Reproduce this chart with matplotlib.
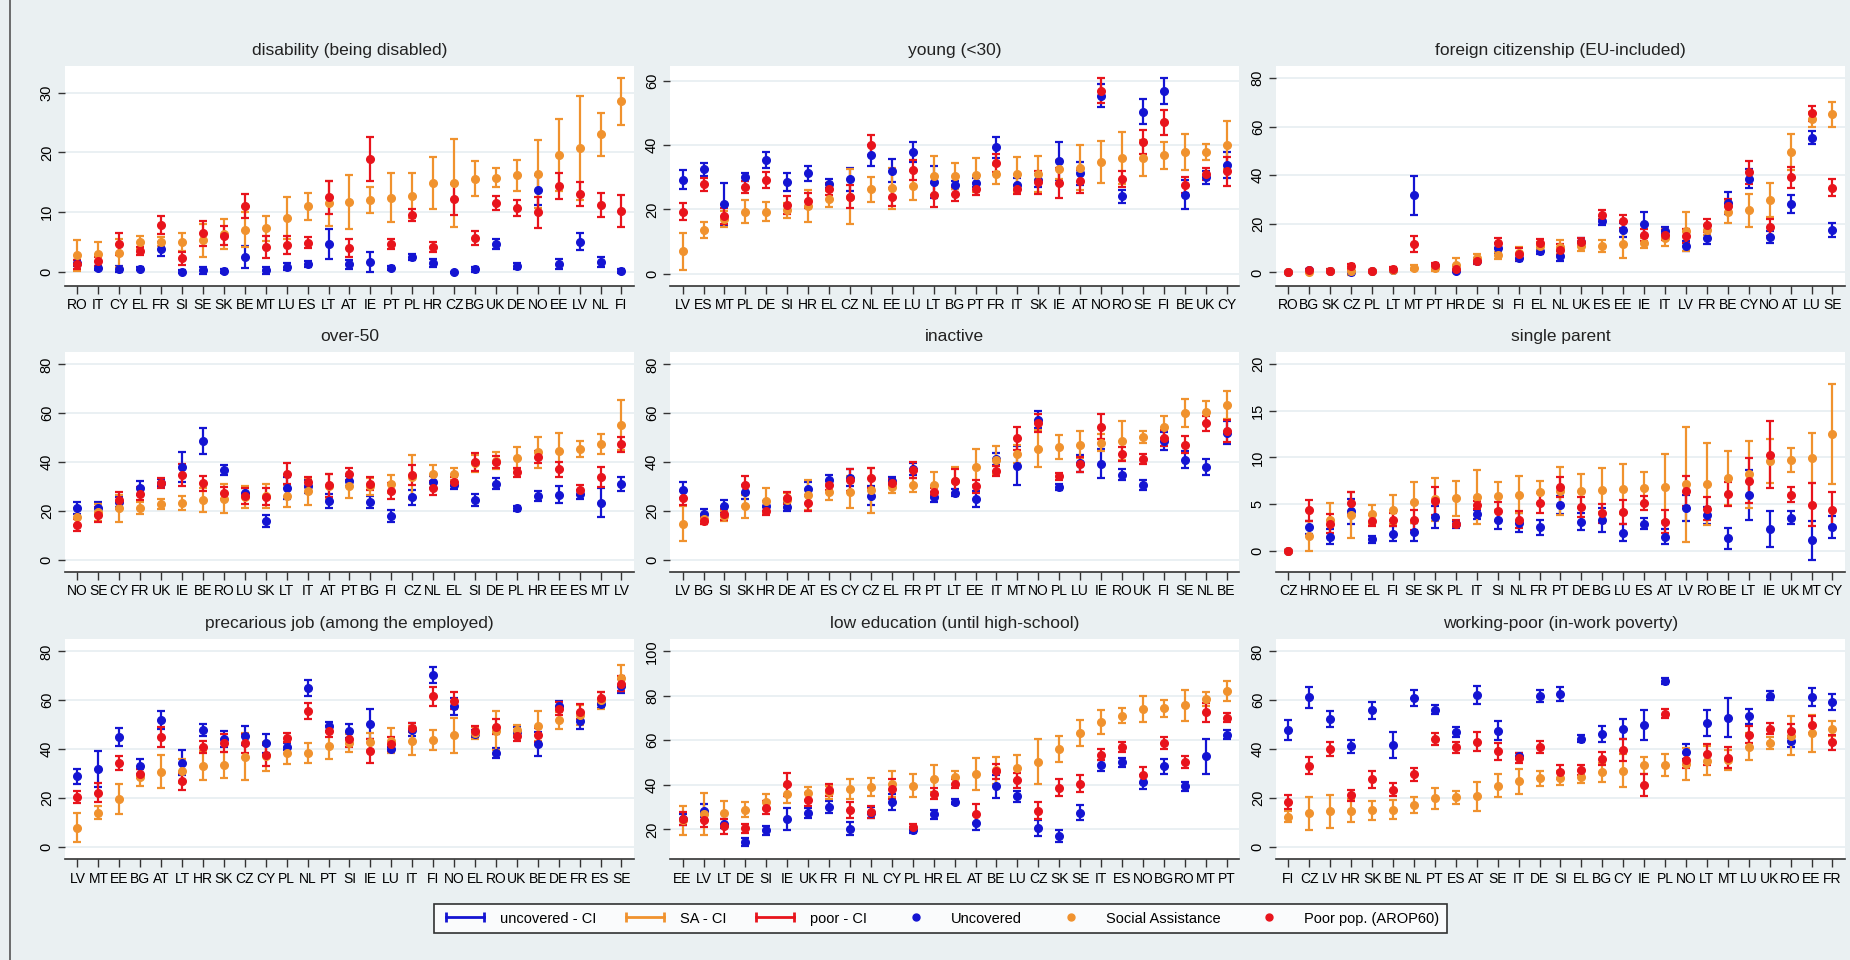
import matplotlib
matplotlib.use("Agg")
import matplotlib.pyplot as plt
from matplotlib.lines import Line2D
from matplotlib.legend_handler import HandlerLine2D

plt.rcParams['font.family'] = ['Liberation Sans', 'DejaVu Sans']

# colours (Stata s2color-like)
BLUE = '#1414d2'
ORANGE = '#f0922e'
RED = '#e8141c'
BG = '#eaf0f2'

# ---- disability (being disabled)
dis_cty = ['RO', 'IT', 'CY', 'EL', 'FR', 'SI', 'SE', 'SK', 'BE', 'MT', 'LU', 'ES', 'LT', 'AT', 'IE', 'PT', 'PL', 'HR', 'CZ', 'BG', 'UK', 'DE', 'NO', 'EE', 'LV', 'NL', 'FI']
dis_unc = [1.5, 0.7, 0.6, 0.6, 3.9, 0.1, 0.3, 0.2, 2.5, 0.3, 0.9, 1.3, 4.7, 1.3, 1.7, 0.7, 2.6, 1.5, 0.0, 0.5, 4.7, 1.1, 13.7, 1.4, 5.1, 1.7, 0.2]
dis_unc_e = [0.5, 0.4, 0.5, 0.3, 1.2, 0.3, 0.6, 0.3, 1.8, 0.6, 0.6, 0.5, 2.5, 0.8, 1.7, 0.4, 0.5, 0.7, 0.1, 0.4, 0.8, 0.5, 2.5, 0.8, 1.4, 0.9, 0.3]
dis_sa = [2.8, 3.0, 3.2, 5.0, 5.1, 5.1, 5.3, 6.3, 7.1, 7.3, 9.0, 11.0, 11.5, 11.7, 12.1, 12.4, 12.8, 14.9, 14.9, 15.6, 15.8, 16.2, 16.4, 19.6, 20.7, 23.0, 28.5]
dis_sa_e = [2.6, 2.0, 2.3, 1.1, 0.7, 1.5, 2.7, 2.5, 2.9, 2.1, 3.5, 2.3, 3.8, 4.5, 2.2, 4.1, 3.7, 4.3, 7.4, 2.9, 1.6, 2.6, 5.6, 6.0, 8.7, 3.6, 3.9]
dis_poor = [1.3, 1.8, 4.7, 3.5, 7.8, 2.3, 6.5, 6.1, 11.1, 4.2, 4.5, 4.9, 12.5, 4.1, 18.9, 4.7, 9.6, 4.2, 12.2, 5.7, 11.6, 10.7, 10.0, 14.4, 13.1, 11.2, 10.2]
dis_poor_e = [0.7, 0.8, 1.8, 0.7, 1.5, 1.1, 2.1, 1.6, 2.0, 1.8, 1.5, 0.9, 2.7, 1.5, 3.7, 0.9, 1.0, 0.9, 2.6, 1.1, 1.2, 1.4, 2.6, 2.1, 2.0, 2.0, 2.7]

# ---- young (<30)
yng_cty = ['LV', 'ES', 'MT', 'PL', 'DE', 'SI', 'HR', 'EL', 'CZ', 'NL', 'EE', 'LU', 'LT', 'BG', 'PT', 'FR', 'IT', 'SK', 'IE', 'AT', 'NO', 'RO', 'SE', 'FI', 'BE', 'UK', 'CY']
yng_unc = [29.2, 32.5, 21.6, 30.0, 35.4, 28.5, 31.2, 28.0, 29.3, 36.8, 32.0, 37.8, 28.5, 27.5, 28.3, 39.3, 27.6, 29.0, 35.0, 31.2, 55.3, 24.1, 50.4, 56.8, 24.6, 30.0, 33.8]
yng_unc_e = [3.0, 2.0, 6.5, 1.2, 2.5, 2.7, 2.3, 1.5, 3.5, 3.2, 3.5, 3.0, 5.0, 1.2, 1.5, 3.2, 2.0, 2.0, 6.0, 3.5, 3.5, 2.0, 3.8, 4.0, 4.5, 2.0, 4.0]
yng_sa = [7.0, 13.7, 16.9, 19.3, 19.3, 19.7, 21.0, 23.3, 24.0, 26.2, 26.5, 27.4, 30.5, 30.3, 30.8, 30.9, 30.9, 31.0, 32.4, 33.0, 34.6, 36.0, 36.0, 36.8, 37.8, 37.7, 40.0]
yng_sa_e = [5.7, 2.5, 2.5, 3.6, 3.0, 2.3, 5.0, 2.5, 8.5, 3.8, 6.5, 4.5, 6.0, 4.0, 5.3, 3.0, 5.5, 5.5, 3.0, 7.0, 6.5, 8.0, 5.5, 4.2, 5.5, 2.5, 7.5]
yng_poor = [19.3, 27.8, 18.0, 26.9, 29.2, 21.5, 22.7, 26.3, 24.0, 40.0, 23.8, 32.2, 24.5, 24.8, 26.3, 34.3, 26.2, 28.4, 28.2, 28.7, 56.9, 29.5, 41.0, 47.0, 27.5, 31.0, 31.8]
yng_poor_e = [2.6, 2.0, 2.5, 1.8, 2.5, 2.8, 2.3, 1.8, 3.5, 3.0, 2.8, 3.2, 3.8, 2.2, 1.8, 2.8, 1.5, 3.5, 4.6, 3.5, 4.0, 2.5, 3.7, 4.0, 2.5, 1.8, 4.5]

# ---- foreign citizenship (EU-included)
frg_cty = ['RO', 'BG', 'SK', 'CZ', 'PL', 'LT', 'MT', 'PT', 'HR', 'DE', 'SI', 'FI', 'EL', 'NL', 'UK', 'ES', 'EE', 'IE', 'IT', 'LV', 'FR', 'BE', 'CY', 'NO', 'AT', 'LU', 'SE']
frg_unc = [0.0, 0.8, 0.5, 0.3, 0.5, 1.0, 31.8, 2.5, 0.5, 4.8, 10.0, 6.0, 9.0, 6.7, 12.5, 21.3, 17.5, 19.8, 17.2, 11.0, 14.3, 28.5, 38.6, 14.6, 28.2, 55.5, 17.5]
frg_unc_e = [0.1, 0.5, 0.4, 0.5, 0.3, 0.5, 8.0, 1.0, 0.5, 1.0, 2.0, 1.5, 1.3, 2.0, 1.5, 1.8, 3.0, 5.0, 1.5, 2.0, 2.5, 4.5, 4.0, 2.5, 3.8, 2.5, 2.8]
frg_sa = [0.0, 0.3, 0.5, 0.5, 0.5, 1.0, 2.0, 2.0, 3.0, 6.0, 7.0, 8.0, 11.0, 10.5, 11.0, 11.0, 11.5, 12.0, 14.3, 17.0, 17.3, 25.0, 25.6, 29.8, 49.5, 63.0, 65.0]
frg_sa_e = [0.1, 0.4, 0.5, 1.5, 0.4, 0.6, 1.0, 1.5, 2.8, 1.5, 1.5, 2.5, 1.5, 3.0, 2.0, 2.5, 5.5, 2.0, 3.5, 8.0, 2.0, 4.5, 6.8, 6.8, 7.5, 3.0, 5.3]
frg_poor = [0.0, 1.0, 0.7, 2.5, 0.7, 1.5, 11.7, 3.0, 1.5, 4.5, 12.0, 7.5, 12.2, 9.3, 12.5, 23.8, 21.0, 15.3, 15.5, 15.0, 19.3, 27.3, 41.2, 18.5, 39.2, 65.5, 34.8]
frg_poor_e = [0.2, 0.5, 0.5, 1.0, 0.4, 0.7, 3.3, 1.0, 1.0, 1.0, 2.0, 2.5, 1.5, 2.3, 1.5, 2.0, 2.8, 2.5, 2.0, 2.7, 2.5, 3.0, 4.7, 3.5, 4.3, 3.0, 3.5]

# ---- over-50
o50_cty = ['NO', 'SE', 'CY', 'FR', 'UK', 'IE', 'BE', 'RO', 'LU', 'SK', 'LT', 'IT', 'AT', 'PT', 'BG', 'FI', 'CZ', 'NL', 'EL', 'SI', 'DE', 'PL', 'HR', 'EE', 'ES', 'MT', 'LV']
o50_unc = [21.2, 21.0, 23.5, 29.4, 31.5, 38.0, 48.5, 36.8, 27.5, 15.9, 29.2, 30.0, 24.0, 32.3, 23.6, 17.8, 25.5, 31.7, 30.4, 24.4, 31.2, 21.0, 26.1, 26.7, 26.8, 23.3, 31.1]
o50_unc_e = [2.5, 2.5, 2.0, 3.0, 1.5, 6.0, 5.3, 2.0, 2.0, 2.5, 4.5, 2.5, 3.0, 2.0, 2.5, 2.5, 3.2, 2.5, 1.3, 2.5, 2.3, 1.0, 2.0, 3.3, 1.8, 6.0, 2.8]
o50_sa = [17.7, 19.5, 21.1, 21.3, 22.8, 23.3, 24.5, 25.0, 25.5, 26.0, 26.2, 28.0, 30.0, 30.0, 30.0, 31.0, 34.0, 35.0, 35.0, 39.5, 40.5, 41.5, 44.0, 44.5, 45.3, 47.3, 55.3]
o50_sa_e = [3.5, 3.5, 5.5, 2.5, 2.0, 3.0, 5.0, 6.0, 4.5, 5.0, 4.6, 5.5, 5.0, 4.8, 3.5, 3.5, 9.0, 3.8, 2.5, 3.5, 3.5, 4.5, 6.3, 7.5, 3.3, 4.0, 10.3]
o50_poor = [14.3, 18.5, 24.3, 27.1, 31.3, 34.8, 31.3, 27.3, 26.0, 25.8, 35.3, 31.8, 30.4, 35.0, 31.2, 28.0, 34.8, 29.4, 32.0, 40.0, 40.0, 35.8, 42.0, 37.0, 28.6, 33.9, 47.2]
o50_poor_e = [2.5, 3.0, 3.4, 2.5, 2.0, 4.5, 3.0, 2.5, 3.3, 3.5, 4.2, 2.0, 4.6, 2.4, 2.5, 3.3, 4.0, 2.8, 2.0, 3.5, 2.5, 1.8, 2.5, 3.0, 2.0, 4.2, 3.0]

# ---- inactive
ina_cty = ['LV', 'BG', 'SI', 'SK', 'HR', 'DE', 'AT', 'ES', 'CY', 'CZ', 'EL', 'FR', 'PT', 'LT', 'EE', 'IT', 'MT', 'NO', 'PL', 'LU', 'IE', 'RO', 'UK', 'FI', 'SE', 'NL', 'BE']
ina_unc = [28.5, 18.8, 22.0, 27.8, 22.0, 21.8, 29.0, 32.8, 33.5, 26.3, 32.3, 37.0, 25.6, 27.5, 25.0, 41.2, 38.4, 57.3, 29.7, 39.5, 39.4, 34.9, 30.5, 48.6, 40.9, 38.0, 52.0]
ina_unc_e = [3.2, 2.0, 2.5, 3.0, 2.0, 2.0, 3.0, 2.0, 3.5, 3.8, 1.5, 2.5, 2.0, 1.5, 3.2, 2.3, 8.0, 3.5, 1.3, 3.5, 6.0, 2.3, 2.0, 3.6, 3.5, 3.3, 4.7]
ina_sa = [14.8, 16.5, 17.8, 21.9, 24.2, 24.4, 26.5, 27.7, 27.7, 28.4, 29.8, 30.6, 30.8, 32.3, 38.0, 40.9, 43.4, 45.5, 46.1, 47.1, 48.0, 48.7, 50.3, 54.4, 60.2, 60.3, 63.3]
ina_sa_e = [7.3, 2.0, 2.0, 4.8, 5.3, 3.0, 6.0, 3.3, 6.5, 9.3, 2.5, 3.0, 5.3, 5.5, 7.5, 5.8, 3.6, 7.5, 4.8, 5.5, 3.5, 8.0, 2.5, 4.5, 5.7, 4.5, 5.7]
ina_poor = [25.3, 16.0, 18.6, 30.7, 20.0, 25.3, 23.4, 30.4, 32.6, 33.4, 31.6, 36.7, 27.9, 32.3, 30.0, 36.3, 49.8, 55.9, 34.1, 39.0, 54.5, 43.3, 41.1, 49.8, 47.1, 55.8, 52.9]
ina_poor_e = [2.8, 1.5, 2.2, 3.5, 1.5, 2.5, 3.3, 2.0, 4.5, 4.0, 1.5, 3.3, 1.5, 4.8, 2.7, 2.0, 4.7, 3.8, 1.5, 3.0, 5.0, 2.8, 2.0, 3.2, 3.6, 3.2, 4.5]

# ---- single parent
sgl_cty = ['CZ', 'HR', 'NO', 'EE', 'EL', 'FI', 'SE', 'SK', 'PL', 'IT', 'SI', 'NL', 'FR', 'PT', 'DE', 'BG', 'LU', 'ES', 'AT', 'LV', 'RO', 'BE', 'LT', 'IE', 'UK', 'MT', 'CY']
sgl_unc = [0.0, 2.5, 1.5, 4.2, 1.2, 1.8, 2.0, 3.6, 2.8, 3.9, 3.3, 3.0, 2.5, 4.9, 3.1, 3.3, 1.9, 2.9, 1.5, 4.6, 3.8, 1.3, 6.0, 2.3, 3.5, 1.1, 2.5]
sgl_unc_e = [0.05, 0.7, 0.8, 1.3, 0.4, 0.8, 1.0, 1.2, 0.4, 0.5, 1.0, 1.0, 0.8, 1.0, 0.9, 1.3, 0.9, 0.6, 0.8, 1.4, 0.9, 1.1, 2.7, 1.9, 0.7, 2.1, 1.2]
sgl_sa = [0.0, 1.6, 3.3, 3.8, 3.9, 4.4, 5.2, 5.5, 5.6, 5.8, 5.9, 6.0, 6.3, 6.4, 6.4, 6.5, 6.6, 6.7, 6.8, 7.1, 7.1, 7.8, 8.2, 9.6, 9.7, 9.9, 12.5]
sgl_sa_e = [0.05, 1.6, 1.8, 2.5, 1.0, 1.6, 2.2, 2.3, 1.9, 2.9, 1.5, 2.0, 1.2, 2.6, 1.8, 2.4, 2.7, 1.7, 3.6, 6.2, 4.4, 2.9, 3.6, 2.4, 1.3, 2.7, 5.4]
sgl_poor = [0.0, 4.3, 2.9, 5.1, 3.2, 3.3, 3.3, 5.3, 2.9, 4.9, 4.2, 3.3, 5.1, 6.8, 4.7, 4.0, 4.1, 5.1, 3.1, 6.4, 4.5, 6.1, 7.5, 10.3, 6.0, 4.9, 4.4]
sgl_poor_e = [0.05, 1.1, 1.0, 1.2, 0.6, 0.7, 1.1, 1.5, 0.4, 0.4, 1.0, 0.9, 1.1, 1.1, 1.1, 1.0, 1.3, 0.8, 1.2, 1.6, 1.2, 1.3, 2.4, 3.6, 0.8, 2.3, 1.9]

# ---- precarious job (among the employed)
prc_cty = ['LV', 'MT', 'EE', 'BG', 'AT', 'LT', 'HR', 'SK', 'CZ', 'CY', 'PL', 'NL', 'PT', 'SI', 'IE', 'LU', 'IT', 'FI', 'NO', 'EL', 'RO', 'UK', 'BE', 'DE', 'FR', 'ES', 'SE']
prc_unc = [28.8, 31.8, 45.0, 33.0, 51.8, 34.5, 47.9, 44.2, 45.5, 42.3, 41.0, 65.0, 49.3, 47.3, 50.3, 40.0, 48.0, 70.2, 57.5, 46.3, 38.4, 47.0, 42.2, 57.5, 51.4, 58.5, 65.8]
prc_unc_e = [3.0, 7.5, 3.7, 3.0, 3.7, 5.0, 2.5, 3.2, 3.8, 3.8, 1.5, 3.2, 1.8, 2.8, 6.0, 1.0, 2.5, 3.3, 3.5, 1.5, 2.0, 2.0, 5.0, 2.0, 3.3, 1.5, 2.8]
prc_sa = [7.8, 14.0, 19.5, 28.5, 30.8, 31.0, 33.2, 33.5, 36.9, 37.0, 38.2, 38.5, 41.3, 42.5, 43.0, 43.5, 43.5, 43.8, 45.6, 46.5, 47.5, 48.0, 49.5, 51.8, 54.0, 60.0, 69.0]
prc_sa_e = [6.0, 2.5, 6.2, 3.5, 6.8, 5.0, 6.0, 5.5, 9.7, 6.0, 4.5, 4.0, 5.5, 3.5, 3.5, 5.0, 6.0, 4.2, 7.0, 2.5, 8.0, 2.0, 6.0, 3.5, 4.0, 3.5, 5.3]
prc_poor = [20.3, 22.2, 34.3, 30.0, 45.0, 26.8, 41.0, 42.5, 42.3, 37.5, 44.7, 55.6, 47.3, 44.0, 39.3, 42.1, 48.8, 61.6, 59.8, 47.3, 49.2, 45.5, 45.8, 56.6, 55.3, 61.0, 66.8]
prc_poor_e = [2.5, 4.0, 2.8, 2.0, 4.0, 3.5, 2.5, 3.5, 3.7, 4.3, 1.8, 3.2, 2.3, 3.0, 5.0, 3.0, 2.0, 3.8, 3.5, 2.0, 3.0, 2.0, 3.0, 2.5, 3.0, 2.3, 3.0]

# ---- low education (until high-school)
edu_cty = ['EE', 'LV', 'LT', 'DE', 'SI', 'IE', 'UK', 'FR', 'FI', 'NL', 'CY', 'PL', 'HR', 'EL', 'AT', 'BE', 'LU', 'CZ', 'SK', 'SE', 'IT', 'ES', 'NO', 'BG', 'RO', 'MT', 'PT']
edu_unc = [24.5, 28.4, 22.5, 14.3, 19.6, 24.6, 27.2, 30.0, 20.3, 27.5, 32.3, 19.8, 26.7, 32.5, 23.0, 39.3, 34.9, 20.5, 17.0, 27.5, 48.8, 50.2, 41.3, 48.3, 39.4, 52.8, 62.4]
edu_unc_e = [2.5, 3.0, 2.0, 1.8, 2.0, 5.0, 2.2, 2.7, 3.0, 2.5, 3.5, 1.3, 2.0, 1.3, 3.5, 5.0, 2.5, 3.5, 2.5, 3.5, 2.5, 2.0, 3.0, 3.3, 2.0, 8.0, 2.0]
edu_sa = [24.0, 27.0, 27.3, 28.8, 32.4, 35.7, 36.2, 36.7, 38.1, 38.9, 40.3, 39.7, 42.8, 43.3, 44.9, 46.5, 47.6, 50.4, 56.0, 63.2, 68.3, 71.0, 74.2, 74.3, 75.7, 78.7, 82.0]
edu_sa_e = [6.5, 9.5, 5.5, 3.3, 3.3, 3.8, 3.0, 3.0, 4.5, 4.0, 5.8, 5.0, 6.2, 3.0, 7.2, 6.0, 5.7, 10.0, 5.8, 5.8, 5.5, 3.3, 5.8, 3.7, 7.0, 3.2, 4.5]
edu_poor = [24.8, 24.0, 21.3, 20.4, 29.7, 40.2, 33.3, 37.8, 28.6, 27.8, 38.3, 21.0, 36.1, 40.5, 27.0, 46.0, 42.0, 28.4, 38.8, 40.6, 53.6, 56.9, 44.5, 58.7, 50.2, 72.5, 70.2]
edu_poor_e = [2.8, 3.0, 3.3, 2.0, 3.0, 5.0, 3.0, 2.8, 3.5, 2.7, 4.5, 1.5, 2.5, 2.0, 4.2, 3.5, 3.5, 3.7, 4.0, 3.8, 2.3, 2.3, 3.5, 2.7, 2.7, 4.2, 2.0]

# ---- working-poor (in-work poverty)
wrk_cty = ['FI', 'CZ', 'LV', 'HR', 'SK', 'BE', 'NL', 'PT', 'ES', 'AT', 'SE', 'IT', 'DE', 'SI', 'EL', 'BG', 'CY', 'IE', 'PL', 'NO', 'LT', 'MT', 'LU', 'UK', 'RO', 'EE', 'FR']
wrk_unc = [47.8, 61.2, 52.2, 41.1, 55.8, 41.6, 60.9, 56.2, 47.1, 62.1, 47.6, 37.2, 61.8, 62.6, 44.2, 46.0, 48.2, 49.9, 68.0, 39.0, 50.7, 52.8, 53.4, 61.9, 43.2, 61.3, 59.3]
wrk_unc_e = [4.0, 4.2, 3.3, 2.5, 3.5, 5.3, 3.3, 2.0, 2.0, 3.7, 3.7, 1.3, 2.5, 3.0, 1.5, 3.3, 4.0, 6.0, 1.2, 3.2, 5.3, 8.0, 3.0, 1.8, 2.3, 3.7, 3.2]
wrk_sa = [12.4, 13.7, 14.5, 14.7, 14.9, 15.2, 17.1, 19.8, 20.3, 20.6, 25.0, 26.8, 28.0, 28.3, 28.5, 30.5, 31.2, 33.4, 33.4, 34.0, 35.2, 35.5, 41.0, 42.6, 45.4, 46.4, 48.4]
wrk_sa_e = [2.3, 6.8, 6.8, 4.7, 4.0, 4.0, 3.2, 4.2, 2.7, 5.8, 4.8, 5.0, 3.0, 2.8, 2.5, 4.0, 6.8, 3.5, 4.5, 6.5, 6.0, 4.0, 5.5, 2.4, 8.0, 7.7, 3.2]
wrk_poor = [18.3, 33.1, 40.0, 21.1, 27.7, 23.4, 29.6, 44.1, 40.8, 43.1, 39.1, 36.3, 40.9, 30.5, 31.3, 36.0, 39.7, 25.2, 54.5, 35.4, 37.9, 36.5, 45.8, 48.4, 47.4, 49.9, 42.8]
wrk_poor_e = [2.7, 3.5, 3.0, 2.3, 3.5, 2.8, 2.8, 2.3, 2.3, 4.0, 3.5, 2.0, 2.3, 2.8, 2.0, 2.7, 4.5, 4.5, 1.8, 3.2, 4.3, 4.3, 3.5, 2.2, 2.8, 3.5, 3.0]

titles = ['disability (being disabled)', 'young (<30)', 'foreign citizenship (EU-included)',
          'over-50', 'inactive', 'single parent',
          'precarious job (among the employed)', 'low education (until high-school)', 'working-poor (in-work poverty)']

panels = [
    (dis_cty, dis_unc, dis_unc_e, dis_sa, dis_sa_e, dis_poor, dis_poor_e, [0, 10, 20, 30], (-2.3, 34.4)),
    (yng_cty, yng_unc, yng_unc_e, yng_sa, yng_sa_e, yng_poor, yng_poor_e, [0, 20, 40, 60], (-3.8, 64.5)),
    (frg_cty, frg_unc, frg_unc_e, frg_sa, frg_sa_e, frg_poor, frg_poor_e, [0, 20, 40, 60, 80], (-5.6, 84.9)),
    (o50_cty, o50_unc, o50_unc_e, o50_sa, o50_sa_e, o50_poor, o50_poor_e, [0, 20, 40, 60, 80], (-5.0, 85.0)),
    (ina_cty, ina_unc, ina_unc_e, ina_sa, ina_sa_e, ina_poor, ina_poor_e, [0, 20, 40, 60, 80], (-5.0, 85.0)),
    (sgl_cty, sgl_unc, sgl_unc_e, sgl_sa, sgl_sa_e, sgl_poor, sgl_poor_e, [0, 5, 10, 15, 20], (-2.3, 21.3)),
    (prc_cty, prc_unc, prc_unc_e, prc_sa, prc_sa_e, prc_poor, prc_poor_e, [0, 20, 40, 60, 80], (-5.0, 85.0)),
    (edu_cty, edu_unc, edu_unc_e, edu_sa, edu_sa_e, edu_poor, edu_poor_e, [20, 40, 60, 80, 100], (6.7, 105.4)),
    (wrk_cty, wrk_unc, wrk_unc_e, wrk_sa, wrk_sa_e, wrk_poor, wrk_poor_e, [0, 20, 40, 60, 80], (-5.0, 85.0)),
]

fig = plt.figure(figsize=(18.5, 9.6), dpi=100, facecolor=BG)

col_left = [0.0351, 0.3622, 0.6897]
row_bottom = [0.7021, 0.4042, 0.1052]
w, h = 0.3076, 0.229

for i, (cty, unc, unc_e, sa, sa_e, poor, poor_e, yt, yl) in enumerate(panels):
    ax = fig.add_axes([col_left[i % 3], row_bottom[i // 3], w, h])
    ax.set_facecolor('white')
    x = list(range(len(cty)))
    ekw = dict(fmt='none', capsize=3, elinewidth=1.6, capthick=1.6, zorder=2)
    ax.errorbar(x, unc, yerr=unc_e, ecolor=BLUE, **ekw)
    ax.errorbar(x, sa, yerr=sa_e, ecolor=ORANGE, **ekw)
    ax.errorbar(x, poor, yerr=poor_e, ecolor=RED, **ekw)
    ax.plot(x, unc, 'o', color=BLUE, ms=5.5, zorder=3)
    ax.plot(x, sa, 'o', color=ORANGE, ms=5.5, zorder=3)
    ax.plot(x, poor, 'o', color=RED, ms=5.5, zorder=3)
    ax.set_xlim(-0.6, len(cty) - 0.4)
    ax.set_ylim(*yl)
    ax.set_yticks(yt)
    ax.set_xticks(x)
    ax.set_xticklabels(cty, fontsize=10)
    for lab in ax.get_yticklabels():
        lab.set_rotation(90)
        lab.set_va('center')
        lab.set_fontsize(10.5)
    ax.grid(axis='y', color='#e6eef1', lw=1.2, zorder=0)
    ax.set_axisbelow(True)
    for s in ['top', 'right', 'left']:
        ax.spines[s].set_visible(False)
    ax.spines['bottom'].set_color('#333333')
    ax.spines['bottom'].set_linewidth(1.2)
    ax.tick_params(axis='x', length=6, width=1, color='#333333', pad=3)
    ax.tick_params(axis='y', length=5, width=1, color='#333333', pad=3)
    ax.set_title(titles[i], fontsize=12.5, color='#222222', pad=8)

# thin border on the left edge of the image
fig.add_artist(Line2D([0.0055, 0.0055], [0.0, 1.0], color='#555555', lw=1.2))

# legend
h_unc = Line2D([], [], color=BLUE, lw=2, marker='|', ms=7, mew=2)
h_sa = Line2D([], [], color=ORANGE, lw=2, marker='|', ms=7, mew=2)
h_poor = Line2D([], [], color=RED, lw=2, marker='|', ms=7, mew=2)
d_unc = Line2D([], [], color=BLUE, lw=0, marker='o', ms=5)
d_sa = Line2D([], [], color=ORANGE, lw=0, marker='o', ms=5)
d_poor = Line2D([], [], color=RED, lw=0, marker='o', ms=5)
hm = {h: HandlerLine2D(numpoints=2) for h in (h_unc, h_sa, h_poor)}
leg = fig.legend([h_unc, h_sa, h_poor, d_unc, d_sa, d_poor],
                 ['uncovered - CI', 'SA - CI', 'poor - CI', 'Uncovered', 'Social Assistance', 'Poor pop. (AROP60)'],
                 handler_map=hm, ncol=6, loc='center', mode='expand',
                 bbox_to_anchor=(0.2346, 0.0229, 0.5474, 0.0406),
                 fontsize=10.5, frameon=True, fancybox=False, handlelength=3.2,
                 numpoints=1, borderaxespad=0, borderpad=0.5)
leg.get_frame().set_edgecolor('black')
leg.get_frame().set_linewidth(1.2)
leg.get_frame().set_facecolor('white')

fig.savefig('out.png', dpi=100, facecolor=BG)
